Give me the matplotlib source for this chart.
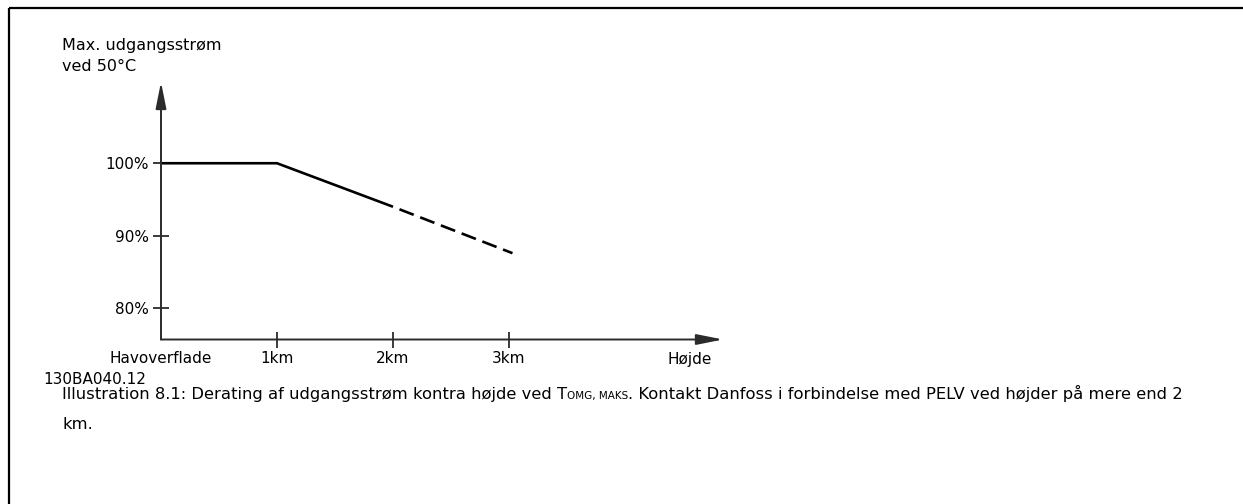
import matplotlib
matplotlib.use("Agg")
import matplotlib.pyplot as plt

# Derating curve: max output current vs. altitude
altitude_km = [0, 1, 2, 3.03]
current_pct = [100, 100, 94, 87.6]
solid_upto = 3            # first three points solid, the rest dashed (above 2 km)

x_ticks = [0, 1, 2, 3]
x_tick_labels = ["Havoverflade", "1km", "2km", "3km"]
y_ticks = [80, 90, 100]
y_tick_labels = ["80%", "90%", "100%"]

y_title_lines = ["Max. udgangsstrøm", "ved 50°C"]
x_title = "Højde"
drawing_no = "130BA040.12"
caption_a = "Illustration 8.1: Derating af udgangsstrøm kontra højde ved T"
caption_sub = "OMG, MAKS"
caption_b = ". Kontakt Danfoss i forbindelse med PELV ved højder på mere end 2"
caption_c = "km."

W, H = 1243, 504
DPI = 100
plt.rcParams["font.family"] = ["DejaVu Sans"]
plt.rcParams["lines.scale_dashes"] = False

fig = plt.figure(figsize=(W / DPI, H / DPI), dpi=DPI)
fig.patch.set_facecolor("white")

# page frame (top and left edges)
frame = fig.add_axes([0, 0, 1, 1], zorder=-1)
frame.set_xlim(0, W)
frame.set_ylim(H, 0)
frame.axis("off")
frame.plot([9, 9], [8, H], color="black", lw=1.6, solid_capstyle="butt")
frame.plot([9, W], [8, 8], color="black", lw=1.6, solid_capstyle="butt")

# chart area in pixels
x0_px, x_end_px = 161, 723
y_axis_px, y_top_px = 339.5, 82
ax = fig.add_axes([x0_px / W, 1 - y_axis_px / H,
                   (x_end_px - x0_px) / W, (y_axis_px - y_top_px) / H])
ax.set_xlim(0, (x_end_px - x0_px) / 116.0)
ax.set_ylim(75.7, 111.2)
ax.patch.set_alpha(0)
for s in ax.spines.values():
    s.set_visible(False)

axis_col = "#2b2b2b"
arrow = dict(arrowstyle="-|>,head_length=1.6,head_width=0.32", color=axis_col,
             lw=1.4, shrinkA=0, shrinkB=0, mutation_scale=10)
ax.annotate("", xy=(0, 1), xytext=(0, 0), xycoords="axes fraction",
            arrowprops=arrow)
ax.annotate("", xy=(1, 0), xytext=(0, 0), xycoords="axes fraction",
            arrowprops=arrow)

ax.set_xticks(x_ticks)
ax.set_xticklabels(x_tick_labels, fontsize=11)
ax.set_yticks(y_ticks)
ax.set_yticklabels(y_tick_labels, fontsize=11)
ax.tick_params(axis="x", direction="inout", length=12, width=1.3, color=axis_col, pad=2)
ax.tick_params(axis="y", direction="inout", length=11, width=1.3, color=axis_col, pad=3)
ax.xaxis.get_major_ticks()[0].tick1line.set_visible(False)

ax.plot(altitude_km[:solid_upto], current_pct[:solid_upto], color="black",
        lw=1.9, solid_capstyle="butt", solid_joinstyle="miter")
ax.plot(altitude_km[solid_upto - 1:], current_pct[solid_upto - 1:], color="black",
        lw=1.9, linestyle=(11.0, (11.0, 5.0)), dash_capstyle="butt")

# axis titles
ax.annotate(x_title, xy=(4.56, 0), xycoords=("data", "axes fraction"),
            xytext=(0, -9), textcoords="offset points", ha="center", va="top",
            fontsize=11)
fig.text(62 / W, 1 - 38 / H, y_title_lines[0], ha="left", va="top", fontsize=11.5)
fig.text(62 / W, 1 - 59 / H, y_title_lines[1], ha="left", va="top", fontsize=11.5)

fig.text(43 / W, 1 - 384 / H, drawing_no, ha="left", va="baseline", fontsize=11)

# caption with small-caps subscript
renderer = fig.canvas.get_renderer()
cap_y = 1 - 399 / H
cap_fs = 11.8
t1 = fig.text(62 / W, cap_y, caption_a, ha="left", va="baseline", fontsize=cap_fs)
x_px = t1.get_window_extent(renderer).x1
t2 = fig.text(x_px / W, cap_y, caption_sub, ha="left", va="baseline", fontsize=7.5)
x_px = t2.get_window_extent(renderer).x1
fig.text(x_px / W, cap_y, caption_b, ha="left", va="baseline", fontsize=cap_fs)
fig.text(62 / W, 1 - 429 / H, caption_c, ha="left", va="baseline", fontsize=cap_fs)

fig.savefig("out.png", dpi=DPI, facecolor="white")
